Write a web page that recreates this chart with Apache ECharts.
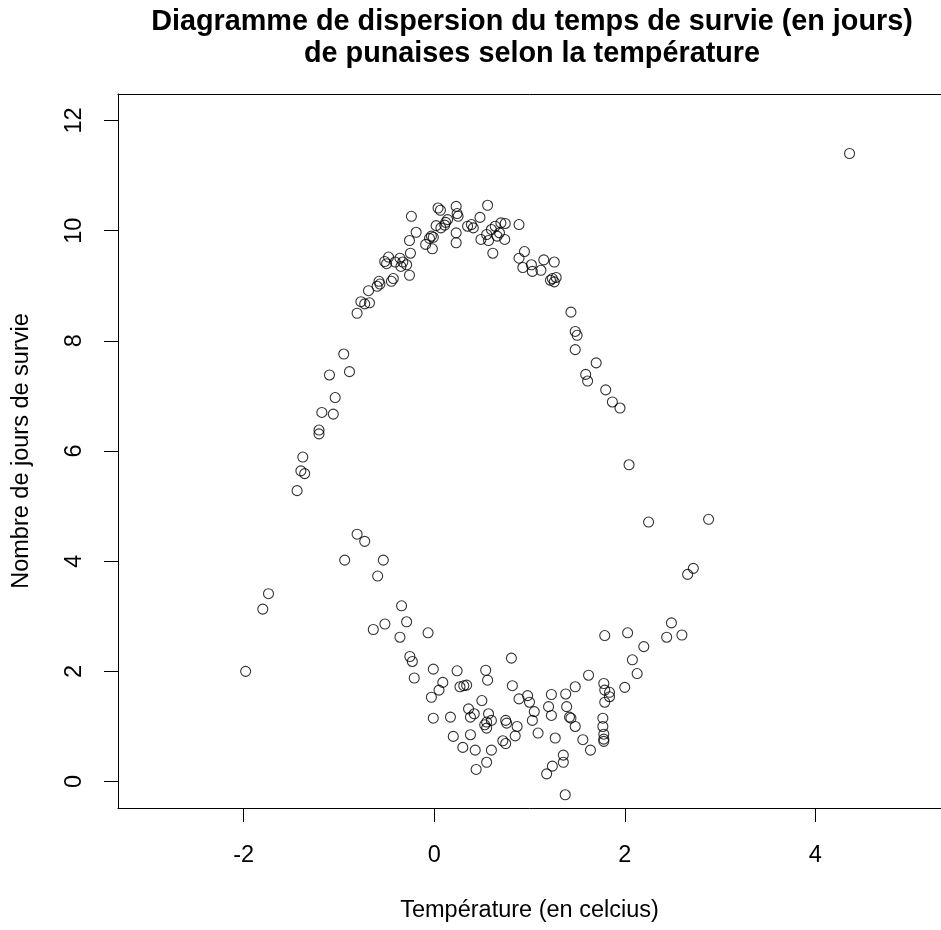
<!DOCTYPE html>
<html>
<head>
<meta charset="utf-8">
<script src="https://cdn.jsdelivr.net/npm/echarts@6/dist/echarts.min.js"></script>
<style>
html,body{margin:0;padding:0;background:#fff;}
#chart{width:941px;height:930px;}
</style>
</head>
<body>
<div id="chart"></div>
<script>
const chartTitle = "Diagramme de dispersion du temps de survie (en jours)\nde punaises selon la température";
const xAxisTitle = "Température (en celcius)";
const yAxisTitle = "Nombre de jours de survie";
const xTickValues = [-2, 0, 2, 4];
const yTickValues = [0, 2, 4, 6, 8, 10, 12];

const temperature = [
  -1.44,-1.40,-1.36,-1.38,-1.21,-1.21,-1.18,-1.06,-1.04,-1.10,-0.95,-0.89,
  -0.81,-0.77,-0.73,-0.68,-0.69,-0.60,-0.57,-0.58,-0.45,-0.43,
  -0.50,-0.52,-0.48,-0.41,-0.36,-0.33,-0.35,-0.29,-0.26,-0.25,
  -0.26,-0.19,-0.24,-0.09,-0.05,-0.01,-0.03,-0.02,
  0.02,0.07,0.12,0.14,0.11,0.04,0.065,
  0.23,0.24,0.25,0.23,0.23,0.35,0.39,0.41,0.48,0.56,
  0.49,0.55,0.57,0.60,0.64,0.70,0.745,0.685,0.66,0.74,0.615,0.89,
  0.947,0.89,0.93,1.02,1.03,1.12,1.15,1.26,1.22,1.26,1.28,1.24,
  1.435,1.48,1.50,1.48,1.70,1.59,1.61,1.80,1.87,1.95,2.045,2.25,2.88,4.36,
  -0.81,-0.73,-0.94,-0.535,-0.594,-1.74,-1.80,-0.343,-0.518,-0.64,-0.29,-0.36,
  -0.065,-0.256,-0.23,-1.98,-0.21,-0.01,0.24,0.54,0.56,0.81,0.09,0.05,-0.03,
  0.27,0.31,0.34,0.82,0.98,0.89,1.00,1.05,1.03,1.23,1.20,1.23,0.50,-0.01,
  0.17,0.36,0.38,0.42,0.57,0.60,0.53,0.55,0.55,0.75,0.76,0.87,0.85,1.09,
  0.20,0.38,0.30,0.43,0.60,0.72,0.75,0.55,0.44,1.27,1.24,1.18,
  2.49,2.03,1.79,2.44,2.60,2.20,2.08,2.13,1.62,2.00,1.78,1.79,1.84,1.84,1.79,
  1.48,1.38,1.39,1.42,1.435,1.48,1.77,1.77,1.78,1.78,1.78,1.56,1.64,
  1.355,1.355,1.375,2.72,2.66
];
const joursSurvie = [
  5.28,5.64,5.59,5.89,6.38,6.31,6.70,6.67,6.97,7.38,7.76,7.44,
  8.50,8.71,8.67,8.69,8.91,8.99,9.03,9.08,9.08,9.13,
  9.40,9.44,9.52,9.43,9.50,9.43,9.35,9.38,9.19,9.59,
  9.82,9.97,10.26,9.75,9.86,9.88,9.90,9.67,
  10.09,10.05,10.15,10.20,10.10,10.41,10.37,
  10.44,10.31,10.26,9.96,9.78,10.08,10.11,10.05,10.24,10.46,
  9.84,9.93,9.82,10.02,10.08,10.14,10.13,9.96,9.90,9.84,9.59,10.11,
  9.62,9.50,9.33,9.38,9.26,9.28,9.47,9.43,9.10,9.07,9.15,9.13,
  8.52,8.17,8.10,7.84,7.60,7.39,7.27,7.11,6.89,6.78,5.75,4.71,4.76,11.40,
  4.49,4.36,4.02,4.02,3.73,3.41,3.13,3.19,2.86,2.76,2.90,2.62,
  2.70,2.27,2.18,2.00,1.88,2.04,2.01,2.02,1.84,2.24,1.80,1.66,1.53,
  1.72,1.74,1.75,1.74,1.56,1.50,1.44,1.27,1.11,1.58,1.36,1.20,1.47,1.15,
  1.17,1.32,1.17,1.23,1.23,1.11,1.03,0.97,1.08,1.11,1.06,1.00,0.83,0.88,
  0.82,0.85,0.62,0.57,0.57,0.74,0.69,0.35,0.22,0.79,0.28,0.14,
  2.88,2.70,2.65,2.62,2.66,2.45,2.21,1.96,1.93,1.71,1.78,1.66,1.62,1.54,1.44,
  1.72,1.59,1.36,1.17,1.15,1.00,1.15,1.00,0.86,0.77,0.73,0.76,0.57,
  0.48,0.35,-0.24,3.87,3.76
];

const points = temperature.map((t, i) => [t, joursSurvie[i]]);
const FONT = "'Liberation Sans', Arial, sans-serif";

const chart = echarts.init(document.getElementById('chart'), null, {renderer: 'canvas'});
chart.setOption({
  backgroundColor: '#ffffff',
  animation: false,
  title: {
    text: chartTitle,
    left: 527,
    top: 1,
    textAlign: 'center',
    textStyle: {fontFamily: FONT, fontSize: 28.8, fontWeight: 'bold', color: '#000', lineHeight: 32}
  },
  grid: {left: 118, right: 0, top: 94, bottom: 122, show: false},
  xAxis: [{
    type: 'value', min: -3.32, max: 5.32,
    name: xAxisTitle, nameLocation: 'middle', nameGap: 91,
    nameTextStyle: {fontFamily: FONT, fontSize: 23.5, color: '#000'},
    axisLine: {show: true, onZero: false, lineStyle: {color: '#000', width: 1}},
    axisTick: {show: true, length: 14, inside: false, customValues: xTickValues, lineStyle: {color: '#000'}},
    axisLabel: {show: true, customValues: xTickValues, margin: 36, fontFamily: FONT, fontSize: 23.5, color: '#000'},
    splitLine: {show: false}
  }, {
    type: 'value', position: 'top', min: -3.32, max: 5.32,
    axisLine: {show: true, onZero: false, lineStyle: {color: '#000', width: 1}},
    axisTick: {show: false}, axisLabel: {show: false}, splitLine: {show: false}
  }],
  yAxis: {
    type: 'value', min: -0.48, max: 12.48,
    name: yAxisTitle, nameLocation: 'middle', nameGap: 84, nameRotate: 90,
    nameTextStyle: {fontFamily: FONT, fontSize: 23.5, color: '#000'},
    axisLine: {show: true, onZero: false, lineStyle: {color: '#000', width: 1}},
    axisTick: {show: true, length: 14, inside: false, customValues: yTickValues, lineStyle: {color: '#000'}},
    axisLabel: {show: true, customValues: yTickValues, rotate: 90, margin: 31, fontFamily: FONT, fontSize: 23.5, color: '#000'},
    splitLine: {show: false}
  },
  series: [{
    type: 'scatter',
    xAxisIndex: 0,
    data: points,
    symbol: 'circle',
    symbolSize: 10,
    itemStyle: {color: 'rgba(0,0,0,0)', borderColor: '#000', borderWidth: 1.1}
  }]
});
</script>
</body>
</html>
